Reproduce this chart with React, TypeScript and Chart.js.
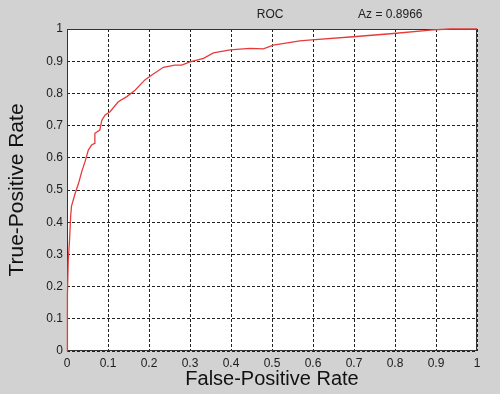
import React, { useEffect, useRef } from "react";
import { Chart, registerables } from "chart.js";

Chart.register(...registerables);

// False-positive rate (x) and true-positive rate (y) of the ROC curve
const fpr = [
  0, 0, 0.002, 0.003, 0.006, 0.009, 0.011, 0.02, 0.028, 0.036, 0.044, 0.052,
  0.06, 0.067, 0.068, 0.08, 0.085, 0.093, 0.105, 0.125, 0.146, 0.166, 0.19,
  0.207, 0.235, 0.263, 0.28, 0.3, 0.333, 0.357, 0.398, 0.446, 0.479, 0.503,
  0.568, 0.597, 0.698, 0.796, 0.893, 0.934, 1,
];
const tpr = [
  0, 0.05, 0.17, 0.28, 0.34, 0.42, 0.45, 0.49, 0.52, 0.557, 0.588, 0.624,
  0.64, 0.645, 0.676, 0.686, 0.717, 0.733, 0.743, 0.774, 0.79, 0.81, 0.842,
  0.857, 0.881, 0.888, 0.888, 0.898, 0.909, 0.926, 0.935, 0.94, 0.938, 0.95,
  0.963, 0.966, 0.976, 0.986, 0.997, 1.0, 1.0,
];
const tickLabels = ["0", "0.1", "0.2", "0.3", "0.4", "0.5", "0.6", "0.7", "0.8", "0.9", "1"];
const titleLeft = "ROC";
const titleRight = "Az = 0.8966";
const xTitle = "False-Positive Rate";
const yTitle = "True-Positive Rate";

const FONT = "'Liberation Sans', Arial, sans-serif";
const BG = "#d2d2d2";

const framePlugin = {
  id: "matlabFrame",
  beforeDraw(chart: any) {
    const { ctx, chartArea: a } = chart;
    ctx.save();
    ctx.fillStyle = BG;
    ctx.fillRect(0, 0, chart.width, chart.height);
    ctx.fillStyle = "#ffffff";
    ctx.fillRect(a.left, a.top, a.right - a.left, a.bottom - a.top);
    ctx.restore();
  },
  beforeDatasetsDraw(chart: any) {
    const { ctx, chartArea: a } = chart;
    ctx.save();
    ctx.strokeStyle = "#333333";
    ctx.lineWidth = 1;
    ctx.setLineDash([]);
    ctx.strokeRect(Math.round(a.left) + 0.5, Math.round(a.top) + 0.5, Math.round(a.right - a.left) - 1, Math.round(a.bottom - a.top) - 1);
    ctx.restore();
  },
  afterDraw(chart: any) {
    const { ctx, chartArea: a } = chart;
    const w = a.right - a.left;
    ctx.save();
    ctx.fillStyle = "#222222";
    ctx.font = `12px ${FONT}`;
    ctx.textBaseline = "middle";
    ctx.textAlign = "left";
    ctx.fillText(titleLeft, a.left + w * 0.463, 15);
    ctx.fillText(titleRight, a.left + w * 0.71, 15);
    ctx.restore();
  },
};

export default function App() {
  const ref = useRef<HTMLCanvasElement | null>(null);

  useEffect(() => {
    document.body.style.margin = "0";
    const canvas = ref.current;
    if (!canvas) return;
    const tickCb = (v: any) => tickLabels[Math.round(Number(v) * 10)];
    const chart = new Chart(canvas, {
      type: "scatter",
      data: {
        datasets: [
          {
            data: fpr.map((x, i) => ({ x, y: tpr[i] })),
            showLine: true,
            borderColor: "rgb(232,58,58)",
            borderWidth: 1.3,
            pointRadius: 0,
            fill: false,
            tension: 0,
            clip: 4,
          } as any,
        ],
      },
      options: {
        responsive: false,
        animation: false,
        layout: { padding: { top: 29, right: 23, left: 0, bottom: 0 } },
        plugins: { legend: { display: false }, tooltip: { enabled: false } },
        scales: {
          x: {
            type: "linear",
            min: 0,
            max: 1,
            ticks: {
              stepSize: 0.1,
              callback: tickCb,
              padding: 5,
              color: "#202020",
              font: { size: 12, family: FONT },
              maxRotation: 0,
              autoSkip: false,
            },
            grid: { color: "#222222", lineWidth: 1, drawTicks: false },
            border: { display: false, dash: [3, 2] },
            title: {
              display: true,
              text: xTitle,
              color: "#111111",
              font: { size: 20, family: FONT },
              padding: { top: 0, bottom: 3 },
            },
            afterFit: (s: any) => {
              s.height = 43;
            },
          },
          y: {
            type: "linear",
            min: 0,
            max: 1,
            ticks: {
              stepSize: 0.1,
              callback: tickCb,
              padding: 4,
              color: "#202020",
              font: { size: 12, family: FONT },
              autoSkip: false,
            },
            grid: { color: "#222222", lineWidth: 1, drawTicks: false },
            border: { display: false, dash: [3, 2] },
            title: {
              display: true,
              text: yTitle,
              color: "#111111",
              font: { size: 21, family: FONT },
              padding: { top: 5, bottom: 0 },
            },
            afterFit: (s: any) => {
              s.width = 67;
            },
          },
        },
      },
      plugins: [framePlugin],
    });
    return () => chart.destroy();
  }, []);

  return (
    <div style={{ position: "fixed", left: 0, top: 0, width: 500, height: 394, background: BG }}>
      <canvas ref={ref} width={500} height={394} style={{ display: "block" }} />
    </div>
  );
}
